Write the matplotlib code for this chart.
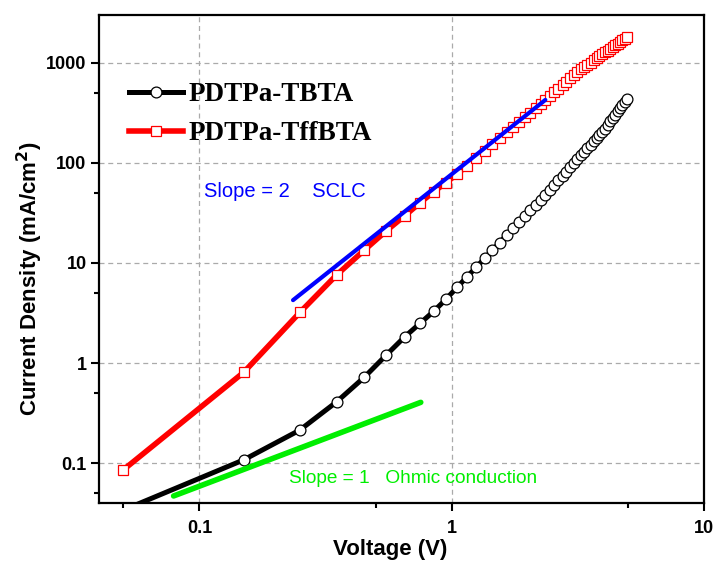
import matplotlib
matplotlib.use('Agg')
import matplotlib.pyplot as plt
from matplotlib.ticker import LogLocator, FixedLocator, FixedFormatter, NullFormatter

# voltaje (V)
voltaje = [0.05, 0.15, 0.25, 0.35, 0.45, 0.55, 0.65, 0.75, 0.85, 0.95,
           1.05, 1.15, 1.25, 1.35, 1.45, 1.55, 1.65, 1.75, 1.85, 1.95,
           2.05, 2.15, 2.25, 2.35, 2.45, 2.55, 2.65, 2.75, 2.85, 2.95,
           3.05, 3.15, 3.25, 3.35, 3.45, 3.55, 3.65, 3.75, 3.85, 3.95,
           4.05, 4.15, 4.25, 4.35, 4.45, 4.55, 4.65, 4.75, 4.85, 4.95]

# densidad de corriente (mA/cm2)
j_tbta = [0.034, 0.108, 0.214, 0.41, 0.72, 1.2, 1.82, 2.5, 3.3, 4.35,
          5.7, 7.26, 9.05, 11.1, 13.4, 16.0, 18.9, 22.1, 25.6, 29.4,
          33.6, 38.1, 42.9, 48.2, 53.8, 59.8, 66.7, 74.0, 81.8, 90.2,
          99.1, 108.5, 118.5, 129, 140, 152, 164, 177, 191, 205,
          220, 239, 259, 281, 303, 327, 352, 378, 406, 435]

j_tffbta = [0.086, 0.81, 3.2, 7.6, 13.4, 20.9, 29.5, 40, 51.6, 63.5,
            77, 94, 112, 132, 153, 176, 201, 228, 256, 286,
            318, 352, 387, 425, 465, 508, 552, 599, 647, 698,
            750, 805, 860, 907, 955, 1005, 1056, 1107, 1160, 1214,
            1269, 1325, 1380, 1439, 1490, 1550, 1615, 1680, 1740, 1790]

# rectas de referencia
v_sclc = [0.235, 2.35]
j_sclc = [4.25, 425]
v_ohm = [0.079, 0.754]
j_ohm = [0.047, 0.405]

x_ticks = [0.1, 1, 10]
x_labels = ['0.1', '1', '10']
y_ticks = [0.1, 1, 10, 100, 1000]
y_labels = ['0.1', '1', '10', '100', '1000']

plt.rcParams['font.family'] = ['Liberation Sans', 'DejaVu Sans']

fig = plt.figure(figsize=(7.15, 5.63), dpi=100)
ax = fig.add_axes([0.1385, 0.1066, 0.8461, 0.8668])

ax.plot(voltaje, j_tbta, color='black', lw=3.6, marker='o', ms=7.8,
        mfc='white', mec='black', mew=0.9, label='PDTPa-TBTA', zorder=3)
ax.plot(voltaje, j_tffbta, color='red', lw=4, marker='s', ms=7.5,
        mfc='white', mec='red', mew=0.9, label='PDTPa-TffBTA', zorder=3)
ax.plot(v_sclc, j_sclc, color='blue', lw=3, solid_capstyle='round', zorder=4)
ax.plot(v_ohm, j_ohm, color='#00ee00', lw=4, solid_capstyle='round', zorder=4)

ax.text(0.104, 46, 'Slope = 2    SCLC', color='blue', fontsize=14.5)
ax.text(0.227, 0.064, 'Slope = 1   Ohmic conduction', color='#00ee00', fontsize=13.7)

ax.set_xscale('log')
ax.set_yscale('log')
ax.set_xlim(0.04, 10)
ax.set_ylim(0.04, 3000)

ax.xaxis.set_major_locator(FixedLocator(x_ticks))
ax.xaxis.set_major_formatter(FixedFormatter(x_labels))
ax.yaxis.set_major_locator(FixedLocator(y_ticks))
ax.yaxis.set_major_formatter(FixedFormatter(y_labels))
ax.xaxis.set_minor_locator(LogLocator(base=10, subs=[5]))
ax.yaxis.set_minor_locator(LogLocator(base=10, subs=[5]))
ax.xaxis.set_minor_formatter(NullFormatter())
ax.yaxis.set_minor_formatter(NullFormatter())

ax.tick_params(which='major', direction='out', length=6, width=1.5, labelsize=13)
ax.tick_params(which='minor', direction='out', length=3.5, width=1.5)
ax.tick_params(axis='x', which='major', pad=6)
ax.tick_params(axis='y', which='major', pad=3)
for lab in ax.get_xticklabels() + ax.get_yticklabels():
    lab.set_fontweight('bold')

for s in ax.spines.values():
    s.set_linewidth(1.6)

ax.grid(True, which='major', color='#aaaaaa', linestyle=(0, (4, 3)), linewidth=0.9)

ax.set_xlabel('Voltage (V)', fontsize=16, fontweight='bold', labelpad=1.5)
ax.set_ylabel('Current Density (mA/cm$^\\mathbf{2}$)', fontsize=16, fontweight='bold', labelpad=1)
ax.xaxis.label.set_x(0.481)
ax.yaxis.label.set_y(0.46)

leg = ax.legend(loc='upper left', bbox_to_anchor=(0.05, 0.862), frameon=False,
                prop={'family': 'Liberation Serif', 'weight': 'bold', 'size': 19.5},
                handlelength=2.0, handletextpad=0.2, labelspacing=0.52,
                borderpad=0, borderaxespad=0)

plt.savefig('out.png', dpi=100)
